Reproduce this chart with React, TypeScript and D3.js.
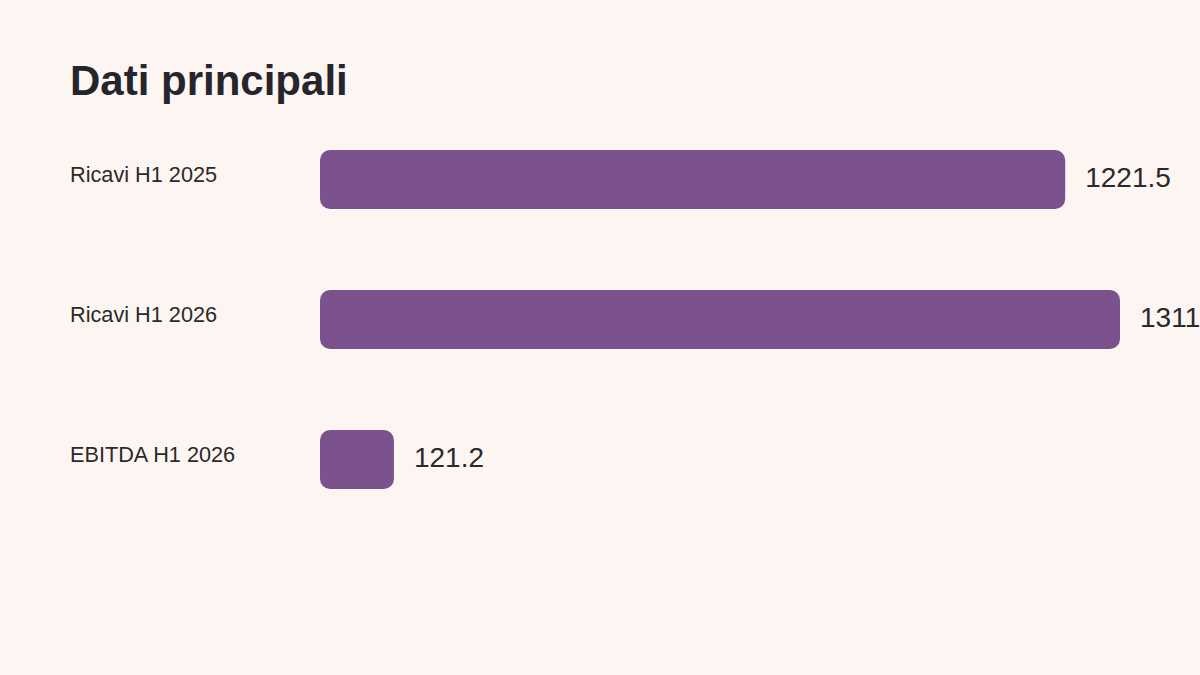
import React, { useEffect } from "react";
import * as d3 from "d3";

const CATEGORIES = ["Ricavi H1 2025", "Ricavi H1 2026", "EBITDA H1 2026"];
const VALUES = [1221.5, 1311.3, 121.2];
const VALUE_LABELS = ["1221.5", "1311.3", "121.2"];

const W = 1200;
const H = 675;
const BG = "#FDF5F1";
const BAR = "#7B518E";
const FONT = "'Liberation Sans', Arial, Helvetica, sans-serif";

export default function App() {
  useEffect(() => {
    document.body.style.margin = "0";
    document.body.style.background = BG;
  }, []);

  const x = d3.scaleLinear().domain([0, d3.max(VALUES) as number]).range([320, 1120]);
  const y = d3.scaleBand<string>().domain(CATEGORIES).range([150, 489]).paddingInner(0.579).paddingOuter(0);
  const bw = y.bandwidth();

  return (
    <svg width={W} height={H} style={{ display: "block", background: BG, overflow: "hidden" }} fontFamily={FONT}>
      <rect width={W} height={H} fill={BG} />
      <text x={70} y={95} fontSize={42} fontWeight="bold" fill="#25252b">Dati principali</text>
      {CATEGORIES.map((c, i) => {
        const top = y(c) as number;
        return (
          <g key={c}>
            <text x={70} y={top + 32} fontSize={21.7} fill="#2a2a2a">{c}</text>
            <rect x={x(0)} y={top} width={x(VALUES[i]) - x(0)} height={bw} rx={10} ry={10} fill={BAR} />
            <text x={x(VALUES[i]) + 20} y={top + bw / 2 - 2} dy="0.35em" fontSize={28} fill="#2a2a2a">{VALUE_LABELS[i]}</text>
          </g>
        );
      })}
    </svg>
  );
}
